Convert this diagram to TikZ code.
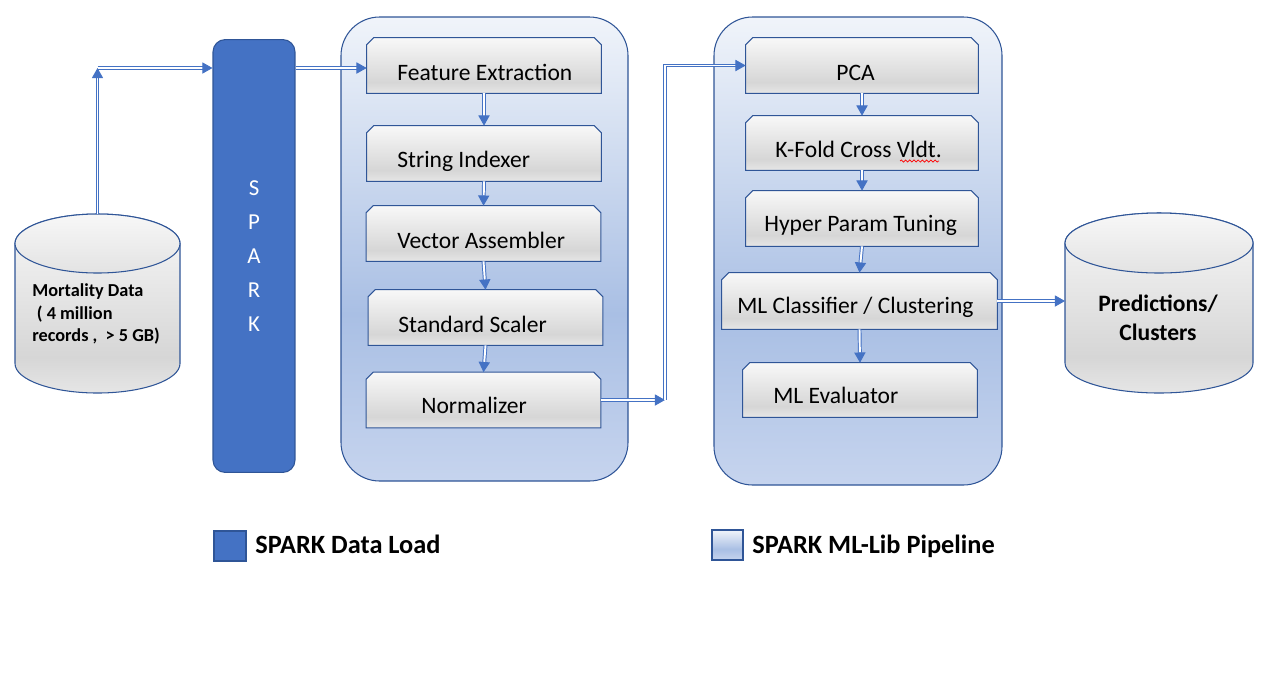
\documentclass[tikz,border=0pt]{standalone}
\usepackage{fontspec}
\setmainfont{Carlito}
\usetikzlibrary{arrows.meta,decorations.pathmorphing}

\definecolor{sparkblue}{HTML}{4472C4}
\definecolor{edgeblue}{HTML}{2F5597}
\definecolor{pipetop}{HTML}{F0F4FA}
\definecolor{pipemid}{HTML}{A9BFE4}
\definecolor{pipebot}{HTML}{C6D4EE}
\definecolor{stagetop}{HTML}{F8F8F8}
\definecolor{stagemid}{HTML}{D6D6D6}
\definecolor{stagebot}{HTML}{E6E6E6}

\pgfdeclareverticalshading{pipeshade}{100bp}{color(0bp)=(pipebot); color(25bp)=(pipebot); color(43bp)=(pipemid); color(75bp)=(pipetop); color(100bp)=(pipetop)}
\pgfdeclareverticalshading{stageshade}{100bp}{color(0bp)=(stagebot); color(25bp)=(stagebot); color(35bp)=(stagemid); color(75bp)=(stagetop); color(100bp)=(stagetop)}

\begin{document}
\begin{tikzpicture}[x=0.02cm, y=-0.02cm,
    pipe/.style={draw=edgeblue, line width=0.6pt, shade, shading=pipeshade, rounded corners=22pt},
    stage/.style={rectangle, inner sep=0pt, minimum width=4.68cm, minimum height=1.1cm},
    stagebox/.style={draw=edgeblue, line width=0.6pt, shade, shading=stageshade},
    stagelabel/.style={anchor=base west, inner sep=0pt, font=\fontsize{13.4}{16}\selectfont},
    store/.style={draw=edgeblue, line width=0.6pt, shade, shading=stageshade},
    storetop/.style={draw=edgeblue, line width=0.6pt, top color=white!97!black, bottom color=white!89!black},
    flow/.style={draw=sparkblue, double=white, double distance=1.1pt, line width=0.55pt,
      -{Triangle[length=5.8pt, width=6.4pt]}},
    legendlabel/.style={anchor=base west, inner sep=0pt, font=\fontsize{15}{18}\selectfont\bfseries}]

    \useasboundingbox (0,0) rectangle (1273,684);

    % Pipeline frames
    \draw[pipe]
      (341,17) rectangle (628,481);
    \draw[pipe]
      (714,17) rectangle (1002,485);

    % Input store
    \draw[store]
      (15,243.5) -- (15,363.5) arc[start angle=180, end angle=0, x radius=82.5, y radius=29.5]
      -- (180,243.5) arc[start angle=0, end angle=-180, x radius=82.5, y radius=29.5] -- cycle;
    \draw[storetop]
      (97.5,243.5) ellipse[x radius=82.5, y radius=29.5];
    \node[anchor=west, align=left, inner sep=0pt, font=\fontsize{10.4}{12.7}\selectfont\bfseries]
      (mort) at (32,314) {Mortality Data\\\hspace*{0.25em}( 4 million\\records ,\ \ > 5 GB)};
    \coordinate (mort-top) at (97.5,214);

    % Output store
    \draw[store]
      (1065,243) -- (1065,363) arc[start angle=180, end angle=0, x radius=94, y radius=30]
      -- (1253,243) arc[start angle=0, end angle=-180, x radius=94, y radius=30] -- cycle;
    \draw[storetop]
      (1159,243) ellipse[x radius=94, y radius=30];
    \node[align=center, inner sep=0pt, font=\fontsize{13.4}{16.3}\selectfont\bfseries]
      (pred) at (1158,318) {Predictions/\\Clusters};
    \coordinate (pred-w) at (1065,301);

    % Data load bar
    \node[fill=sparkblue, draw=edgeblue, line width=0.6pt, rounded corners=7pt,
      minimum width=1.64cm, minimum height=8.66cm, align=center, text=white,
      font=\fontsize{13}{19.3}\selectfont] (spark) at (254,256) {S\\P\\A\\R\\K};

    % Feature stages
    \node[stage] (fe) at (484,65.5) {};
    \node[stage] (si) at (484,153.5) {};
    \node[stage] (va) at (483.5,233.5) {};
    \node[stage] (ss) at (485.5,317.5) {};
    \node[stage] (norm) at (483.5,400) {};

    % Model stages
    \node[stage, minimum width=4.64cm] (pca) at (862,65.5) {};
    \node[stage, minimum width=4.64cm, minimum height=1.08cm] (kf) at (862,143) {};
    \node[stage, minimum width=4.64cm] (hp) at (862,218.5) {};
    \node[stage, minimum width=5.5cm, minimum height=1.12cm] (mlc) at (859.5,301) {};
    \node[stage, minimum width=4.68cm, minimum height=1.08cm] (mle) at (860,390) {};

    % Snipped stage boxes
    \foreach \n in {fe, si, va, ss, norm, pca, kf, hp, mlc, mle} {
      \draw[stagebox]
        (\n.south west) -- ([yshift=-4pt]\n.north west) -- ([xshift=4pt]\n.north west)
        -- ([xshift=-4pt]\n.north east) -- ([yshift=-4pt]\n.north east) -- (\n.south east) -- cycle;
    }

    % Stage labels
    \node[stagelabel] (fe-l) at (397,80) {Feature Extraction};
    \node[stagelabel] (si-l) at (397,167) {String Indexer};
    \node[stagelabel] (va-l) at (397,248) {Vector Assembler};
    \node[stagelabel] (ss-l) at (398,332) {Standard Scaler};
    \node[stagelabel] (norm-l) at (421,413) {Normalizer};
    \node[stagelabel] (pca-l) at (836,80) {PCA};
    \node[stagelabel] (kf-l) at (775,157) {K-Fold Cross Vldt.};
    \node[stagelabel] (hp-l) at (764,231) {Hyper Param Tuning};
    \node[stagelabel] (mlc-l) at (737,313) {ML Classifier / Clustering};
    \node[stagelabel] (mle-l) at (773,403) {ML Evaluator};
    \draw[red, line width=0.4pt, decorate,
      decoration={snake, amplitude=0.6pt, segment length=2.4pt}]
      (900,161) -- (939,161);

    % Flow arrows
    \coordinate (up) at (97.5,68);
    \coordinate (bend) at (665,400);
    \draw[flow] (mort-top) -- (up);
    \draw[flow] (up) -- (up -| spark.west);
    \draw[flow] (spark.east |- up) -- (fe.west |- up);
    \foreach \a/\b in {fe/si, si/va, va/ss, ss/norm, pca/kf, kf/hp, hp/mlc, mlc/mle} {
      \draw[flow] (\a.south) -- (\b.north);
    }
    \draw[flow] (norm.east) -- (bend);
    \draw[flow] (bend) |- (pca.west);
    \draw[flow] (mlc.east) -- (pred-w);

    % Legend
    \node[fill=sparkblue, draw=edgeblue, line width=0.6pt, minimum width=0.64cm, minimum height=0.6cm]
      (key-load) at (230,546) {};
    \node[legendlabel] (key-load-l) at (255,553) {SPARK Data Load};
    \node[pipe, rounded corners=0pt, minimum width=0.62cm, minimum height=0.6cm]
      (key-pipe) at (727.5,545) {};
    \node[legendlabel] (key-pipe-l) at (752,553) {SPARK ML-Lib Pipeline};
\end{tikzpicture}
\end{document}
